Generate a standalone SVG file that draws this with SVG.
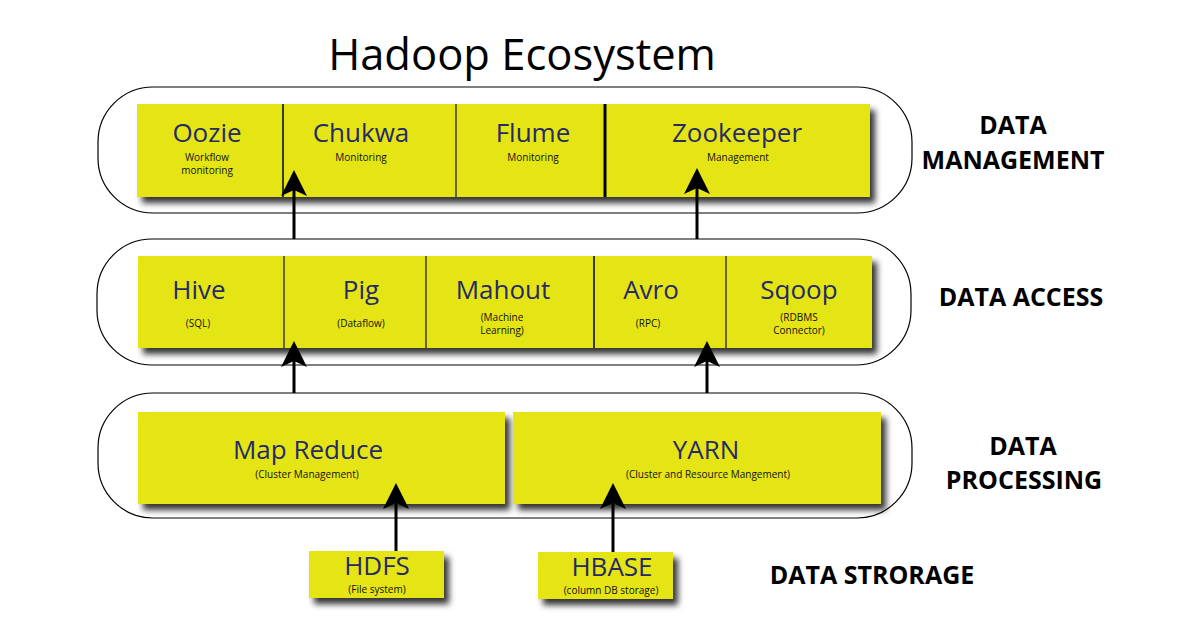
<svg xmlns="http://www.w3.org/2000/svg" width="1200" height="628" viewBox="0 0 1200 628">
<defs>
<filter id="sh" x="-10%" y="-20%" width="125%" height="150%">
<feDropShadow dx="5" dy="6" stdDeviation="3" flood-color="#000" flood-opacity="0.8"/>
</filter>
<marker id="ah" viewBox="0 0 26 26" markerUnits="userSpaceOnUse" markerWidth="26" markerHeight="26" refX="20" refY="13" orient="auto">
<path d="M0,0 L26,13 L0,26 L6,13 z" fill="#000"/>
</marker>
</defs>
<style>
.cap{fill:#fff;stroke:#000;stroke-width:1.2}
.box{fill:#e5e517;filter:url(#sh)}
.dv{stroke:#000;stroke-width:1.5}
.do{stroke:#5a5a12;stroke-width:1.8}
.dt{stroke:#000;stroke-width:3}
.t{font-family:"Open Sans","Noto Sans",sans-serif;fill:#262a66;font-size:26px;text-anchor:middle}
.s{font-family:"Open Sans","Noto Sans",sans-serif;fill:#111;font-size:10px;text-anchor:middle}
.lb{font-family:"Open Sans","Noto Sans",sans-serif;font-weight:bold;fill:#000;font-size:25px;text-anchor:middle}
.ttl{font-family:"Open Sans","Noto Sans",sans-serif;fill:#000;font-size:43.5px;text-anchor:middle}
.ar{stroke:#000;stroke-width:3;fill:none;marker-end:url(#ah)}
</style>
<rect width="1200" height="628" fill="#fff"/>
<text class="ttl" x="522" y="70">Hadoop Ecosystem</text>

<g id="layer-management">
<rect class="cap" x="98" y="87" width="814" height="126" rx="55" ry="55"/>
<rect class="box" x="137" y="104" width="733" height="93"/>
<line class="dv" x1="283" y1="104" x2="283" y2="197"/>
<line class="do" x1="456" y1="104" x2="456" y2="197"/>
<line class="dt" x1="605" y1="104" x2="605" y2="197"/>
<g id="oozie"><text class="t" x="207" y="142">Oozie</text><text class="s" x="207" y="161">Workflow</text><text class="s" x="207" y="174">monitoring</text></g>
<g id="chukwa"><text class="t" x="361" y="142">Chukwa</text><text class="s" x="361" y="161">Monitoring</text></g>
<g id="flume"><text class="t" x="533" y="142">Flume</text><text class="s" x="533" y="161">Monitoring</text></g>
<g id="zookeeper"><text class="t" x="737" y="142">Zookeeper</text><text class="s" x="738" y="161">Management</text></g>
</g>

<g id="layer-access">
<rect class="cap" x="97" y="239" width="814" height="126" rx="55" ry="55"/>
<rect class="box" x="138" y="256" width="734" height="92"/>
<line class="do" x1="284" y1="256" x2="284" y2="348"/>
<line class="do" x1="426" y1="256" x2="426" y2="348"/>
<line class="dv" x1="594" y1="256" x2="594" y2="348"/>
<line class="do" x1="726" y1="256" x2="726" y2="348"/>
<g id="hive"><text class="t" x="199" y="299">Hive</text><text class="s" x="198" y="327">(SQL)</text></g>
<g id="pig"><text class="t" x="361" y="299">Pig</text><text class="s" x="361" y="327">(Dataflow)</text></g>
<g id="mahout"><text class="t" x="503" y="299">Mahout</text><text class="s" x="502" y="321">(Machine</text><text class="s" x="502" y="334">Learning)</text></g>
<g id="avro"><text class="t" x="651" y="299">Avro</text><text class="s" x="648" y="327">(RPC)</text></g>
<g id="sqoop"><text class="t" x="799" y="299">Sqoop</text><text class="s" x="799" y="321">(RDBMS</text><text class="s" x="799" y="334">Connector)</text></g>
</g>

<g id="layer-processing">
<rect class="cap" x="98" y="393" width="814" height="125" rx="55" ry="55"/>
<g id="mapreduce"><rect class="box" x="138" y="412" width="367" height="92"/><text class="t" x="308" y="459">Map Reduce</text><text class="s" x="307" y="478">(Cluster Management)</text></g>
<g id="yarn"><rect class="box" x="513" y="412" width="368" height="92"/><text class="t" x="706" y="459">YARN</text><text class="s" x="708" y="478">(Cluster and Resource Mangement)</text></g>
</g>

<g id="hdfs"><rect class="box" x="309" y="551" width="135" height="47"/><text class="t" x="377" y="575">HDFS</text><text class="s" x="377" y="593">(File system)</text></g>
<g id="hbase"><rect class="box" x="538" y="552" width="135" height="47"/><text class="t" x="612" y="576">HBASE</text><text class="s" x="611" y="594">(column DB storage)</text></g>

<g id="labels">
<text class="lb" x="1013" y="134">DATA</text>
<text class="lb" x="1013" y="169">MANAGEMENT</text>
<text class="lb" x="1021" y="306">DATA ACCESS</text>
<text class="lb" x="1023" y="455">DATA</text>
<text class="lb" x="1024" y="489">PROCESSING</text>
<text class="lb" x="872" y="584">DATA STRORAGE</text>
</g>

<g id="connectors">
<line class="ar" x1="294" y1="239" x2="294" y2="176"/>
<line class="ar" x1="697" y1="239" x2="697" y2="174"/>
<line class="ar" x1="294" y1="393" x2="294" y2="347"/>
<line class="ar" x1="707" y1="393" x2="707" y2="347"/>
<line class="ar" x1="396" y1="551" x2="396" y2="489"/>
<line class="ar" x1="613" y1="552" x2="613" y2="489"/>
</g>
</svg>
